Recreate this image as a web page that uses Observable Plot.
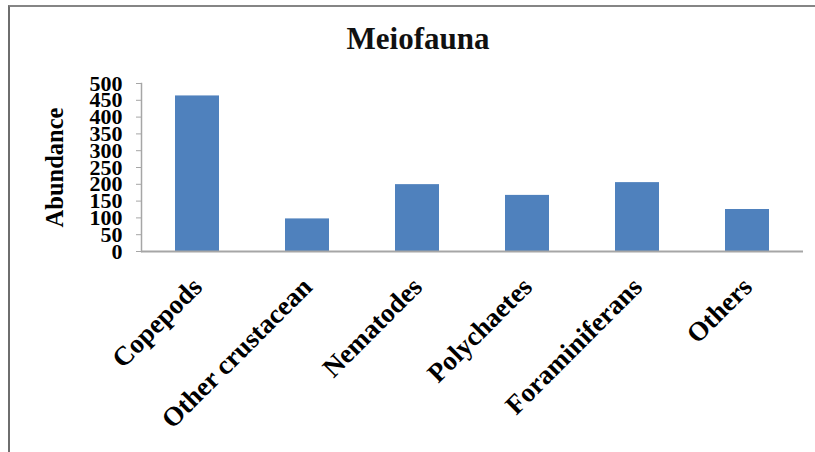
<!DOCTYPE html>
<html>
<head>
<meta charset="utf-8">
<script src="https://cdn.jsdelivr.net/npm/d3@7"></script>
<script src="https://cdn.jsdelivr.net/npm/@observablehq/plot@0.6"></script>
<style>
  html, body { margin: 0; padding: 0; background: #fff; }
  #page { position: relative; width: 815px; height: 452px; overflow: hidden; background: #fff; }
  #frame { position: absolute; left: 8px; top: 5px; width: 900px; height: 600px; z-index: 2;
           pointer-events: none;
           border-top: 2px solid #858585; border-left: 2px solid #6e6e6e; }
  #title { position: absolute; left: 0; top: 23px; width: 836px; text-align: center;
           font: bold 31px/31px "Liberation Serif", "Times New Roman", serif; color: #111; }
  #chart { position: absolute; left: 0; top: 60px; }
</style>
</head>
<body>
<div id="page">
  <div id="title">Meiofauna</div>
  <div id="chart"></div>
  <div id="frame"></div>
</div>
<script>
// Meiofauna abundance by group
const groups = ["Copepods", "Other crustacean", "Nematodes", "Polychaetes", "Foraminiferans", "Others"];
const abundance = [463, 97, 199, 167, 205, 125];
const yTicks = [0, 50, 100, 150, 200, 250, 300, 350, 400, 450, 500];
const yLabel = "Abundance";

const data = groups.map((g, i) => ({group: g, value: abundance[i]}));
const serif = "'Liberation Serif', 'Times New Roman', serif";

const chart = Plot.plot({
  width: 815,
  height: 392,
  marginTop: 23,
  marginBottom: 201,
  marginLeft: 141,
  marginRight: 12,
  style: {fontFamily: serif, background: "transparent", overflow: "visible"},
  x: {domain: groups, paddingInner: 0.6, paddingOuter: 0.3, label: null},
  y: {domain: [0, 500], label: null},
  marks: [
    Plot.barY(data, {x: "group", y: "value", fill: "#4f81bd"}),
    Plot.ruleY([0], {stroke: "#a6a6a6", strokeWidth: 2}),
    Plot.frame({anchor: "left", stroke: "#a6a6a6", strokeWidth: 1.5}),
    Plot.axisY(yTicks, {
      tickSize: 5, tickPadding: 14, stroke: "#a6a6a6", fill: "black",
      fontSize: 22, fontWeight: "bold", fontFamily: serif, label: null
    }),
    Plot.axisX({
      tickSize: 0, tickPadding: 31, tickRotate: -45, dx: 0, fill: "black",
      fontSize: 27, fontWeight: "bold", fontFamily: serif, label: null
    }),
    Plot.text([yLabel], {
      frameAnchor: "left", textAnchor: "middle", rotate: -90, dx: -86, text: d => d,
      fontSize: 24.5, fontWeight: "bold", fontFamily: serif, fill: "black"
    })
  ]
});
document.getElementById("chart").appendChild(chart);
</script>
</body>
</html>
